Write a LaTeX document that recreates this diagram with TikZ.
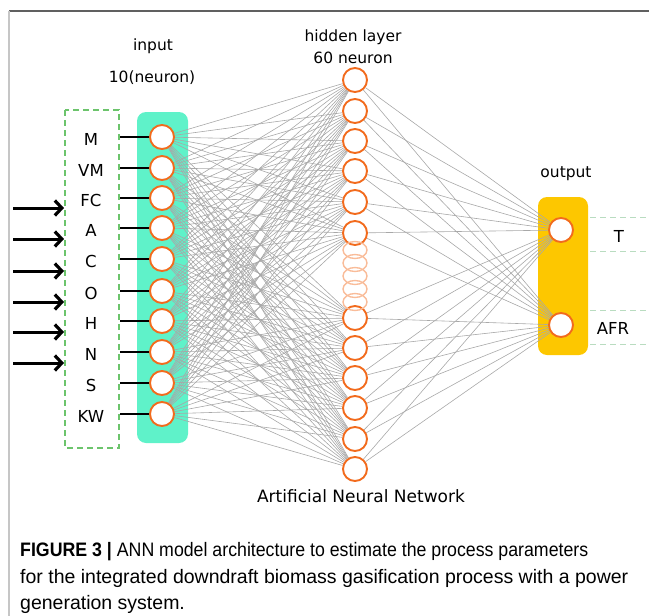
\documentclass[tikz,border=0pt]{standalone}
\usepackage{fontspec}
\setmainfont{DejaVu Sans}
\newfontfamily\capfont{Liberation Sans}
\usetikzlibrary{arrows.meta,shapes.geometric}

\definecolor{nOrange}{HTML}{F26B1D}
\definecolor{mint}{HTML}{5FF2C9}
\definecolor{gold}{HTML}{FDC700}
\definecolor{linkGray}{HTML}{A8A8A8}
\definecolor{boxGreen}{HTML}{6CC46C}
\definecolor{paleGreen}{HTML}{B9DCC0}

\pgfdeclarelayer{boxes}
\pgfdeclarelayer{links}
\pgfsetlayers{boxes,links,main}

\begin{document}
\begin{tikzpicture}[x=1pt,y=-1pt,
  neuron/.style={circle,draw=nOrange,line width=1.9pt,fill=white,minimum size=24pt,inner sep=0pt},
  ghost/.style={ellipse,draw=nOrange!45,line width=1.4pt,minimum width=24pt,minimum height=17pt,inner sep=0pt},
  link/.style={draw=linkGray,line width=0.6pt},
  feed/.style={draw=black,line width=1.2pt},
  inarrow/.style={draw=black,line width=3pt,-{Straight Barb[length=7pt,width=15pt,line width=3.2pt]}},
  lbl/.style={font=\fontsize{16.5}{18}\selectfont,inner sep=0pt},
  head/.style={font=\fontsize{15.5}{17}\selectfont,inner sep=0pt},
  capline/.style={anchor=west,inner sep=0pt,font=\capfont\fontsize{19.5}{22}\selectfont}]
\useasboundingbox (0,0) rectangle (649,616);

% page frame
\draw[gray!75!black,line width=1.3pt] (9,11) -- (649,11);
\draw[gray!45,line width=2pt] (9,11) -- (9,616);

% layer backgrounds
\begin{pgfonlayer}{boxes}
  \fill[mint,rounded corners=9pt] (137,112) rectangle (188,443);
  \fill[gold,rounded corners=9pt] (538,197) rectangle (588,355);
  \draw[boxGreen,line width=1.3pt,dash pattern=on 6pt off 4pt] (65,110) rectangle (119,448);
\end{pgfonlayer}

% input layer
\foreach \t/\y [count=\i] in {M/137,VM/168,FC/198,A/228,C/259,O/291,H/321,N/352,S/383,KW/414}{
  \node[lbl] (l\i) at (91,\y+2) {\t};
  \coordinate (b\i) at (120,\y);
  \node[neuron] (i\i) at (162,\y) {};
  \draw[feed] (b\i) -- (i\i);
}

% arrows feeding the inputs
\foreach \y [count=\k] in {208,239,271,302,332,363}{
  \coordinate (s\k) at (13,\y);
  \coordinate (e\k) at (64,\y);
  \draw[inarrow] (s\k) -- (e\k);
}

% hidden layer
\foreach \y [count=\j] in {80,111,141,171,202,233,318,348,378,408,439,469}{
  \node[neuron] (h\j) at (355,\y) {};
}
\foreach \y [count=\g] in {302,289,276,263,250}{
  \node[ghost] (g\g) at (355,\y) {};
}

% output layer
\node[neuron] (o1) at (561,230) {};
\node[neuron] (o2) at (561,325) {};

% connections
\begin{pgfonlayer}{links}
  \foreach \i in {1,...,10}{
    \foreach \j in {1,...,12}{
      \draw[link] (i\i) -- (h\j);
    }
  }
  \foreach \j in {1,...,12}{
    \draw[link] (h\j) -- (o1);
    \draw[link] (h\j) -- (o2);
  }
\end{pgfonlayer}

% output guide lines and labels
\draw[paleGreen,line width=1pt,dash pattern=on 6pt off 4pt] (590,217) -- (649,217);
\draw[paleGreen,line width=1pt,dash pattern=on 6pt off 4pt] (590,251) -- (649,251);
\draw[paleGreen,line width=1pt,dash pattern=on 6pt off 4pt] (590,310) -- (649,310);
\draw[paleGreen,line width=1pt,dash pattern=on 6pt off 4pt] (590,344) -- (649,344);
\node[lbl] (tT) at (619,236) {T};
\node[lbl] (tAFR) at (613,328) {AFR};

% headings
\node[head] (hin) at (153,46) {input};
\node[head] (hin2) at (152,78) {10(neuron)};
\node[head] (hhid) at (353,37) {hidden layer};
\node[head] (hhid2) at (353,58) {60 neuron};
\node[head] (hout) at (566,174) {output};
\node[head,font=\fontsize{17}{19}\selectfont] (hann) at (361,496) {Artificial Neural Network};

% caption
\node[capline] (c1) at (20,552) {\scalebox{0.91}[1]{\textbf{FIGURE 3} \textbf{|} ANN model architecture to estimate the process parameters}};
\node[capline] (c2) at (20,578) {for the integrated downdraft biomass gasification process with a power};
\node[capline] (c3) at (20,604) {generation system.};
\end{tikzpicture}
\end{document}
